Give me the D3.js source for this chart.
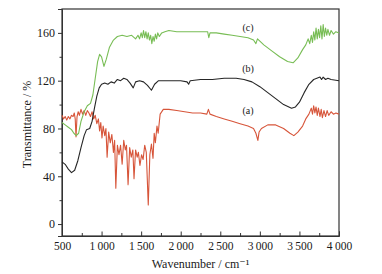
<!DOCTYPE html>
<html>
<head>
<meta charset="utf-8">
<script src="https://cdn.jsdelivr.net/npm/d3@7"></script>
<style>
  body { margin: 0; background: #fff; }
  svg text { font-family: "Liberation Serif", "DejaVu Serif", serif; fill: #1a1a1a; }
  .axis path, .axis line { stroke: #333; }
</style>
</head>
<body>
<svg id="chart" width="382" height="274"></svg>
<script>
// Curve (a): red spectrum [wavenumber, transmittance]
const seriesA = [
  [500, 91], [520, 88], [540, 90], [560, 87], [580, 90], [600, 88], [620, 91], [640, 90], [655, 93],
  [667, 88], [677, 73], [690, 90], [705, 94], [720, 91], [740, 96], [760, 92], [780, 95], [800, 91],
  [820, 95], [840, 93], [860, 90], [880, 94], [900, 88], [920, 91], [940, 84], [960, 88], [975, 78],
  [990, 85], [1005, 72], [1020, 82], [1040, 74], [1055, 80], [1070, 56], [1090, 77], [1110, 68],
  [1130, 75], [1150, 60], [1165, 70], [1180, 30], [1200, 66], [1220, 58], [1240, 66], [1260, 50],
  [1280, 70], [1300, 62], [1315, 66], [1335, 33], [1355, 64], [1375, 56], [1395, 62], [1410, 38],
  [1430, 62], [1450, 56], [1465, 60], [1485, 49], [1505, 58], [1525, 54], [1545, 66], [1565, 60],
  [1590, 16], [1610, 58], [1630, 67], [1650, 55], [1665, 76], [1680, 68], [1700, 82], [1715, 76],
  [1740, 92], [1780, 96], [1850, 96], [1950, 95], [2050, 94], [2150, 93], [2250, 93], [2330, 92],
  [2350, 96], [2370, 92], [2450, 90], [2550, 88], [2650, 86], [2750, 84], [2850, 82], [2920, 80],
  [2950, 76], [2975, 70], [2990, 77], [3020, 80], [3100, 83], [3200, 83], [3300, 80], [3380, 76],
  [3430, 74], [3480, 77], [3540, 82], [3580, 88], [3620, 92], [3650, 97], [3665, 92], [3680, 99],
  [3695, 93], [3710, 98], [3725, 91], [3740, 97], [3760, 90], [3775, 96], [3790, 89], [3810, 95],
  [3830, 90], [3850, 95], [3870, 91], [3900, 94], [3930, 92], [3960, 93], [4000, 92]
];

// Curve (b): black spectrum
const seriesB = [
  [500, 52], [540, 50], [580, 46], [620, 43], [660, 45], [700, 53], [740, 64], [780, 74], [810, 79],
  [850, 80], [880, 86], [910, 97], [940, 107], [970, 114], [1000, 117], [1040, 118], [1080, 117],
  [1120, 119], [1160, 118], [1200, 121], [1240, 120], [1280, 122], [1320, 121], [1360, 118],
  [1400, 114], [1430, 119], [1480, 120], [1530, 119], [1580, 116], [1630, 112], [1670, 117],
  [1720, 120], [1800, 120], [1900, 120], [2000, 120], [2080, 119], [2100, 117], [2120, 120],
  [2250, 121], [2400, 121], [2550, 122], [2700, 122], [2800, 121], [2900, 119], [3000, 115],
  [3100, 110], [3200, 105], [3300, 100], [3400, 97], [3450, 98], [3500, 102], [3560, 110],
  [3620, 117], [3680, 121], [3720, 122], [3760, 123], [3780, 121], [3800, 123], [3830, 121],
  [3860, 122], [3900, 121], [4000, 120]
];

// Curve (c): green spectrum
const seriesC = [
  [500, 85], [540, 83], [580, 81], [620, 79], [650, 76], [680, 74], [710, 76], [740, 86], [780, 94],
  [820, 99], [860, 101], [890, 108], [920, 122], [950, 136], [975, 142], [1000, 140], [1030, 132],
  [1060, 138], [1100, 148], [1150, 154], [1200, 157], [1260, 158], [1320, 157], [1380, 158],
  [1430, 155], [1460, 158], [1480, 155], [1500, 160], [1515, 156], [1530, 162], [1545, 156],
  [1560, 161], [1575, 155], [1590, 160], [1605, 154], [1620, 158], [1635, 151], [1650, 157],
  [1665, 153], [1680, 159], [1695, 155], [1710, 160], [1730, 157], [1760, 160], [1800, 161],
  [1850, 162], [1950, 161], [2050, 161], [2150, 161], [2250, 161], [2340, 161], [2355, 156],
  [2370, 160], [2450, 160], [2550, 159], [2650, 158], [2750, 157], [2850, 156], [2920, 154],
  [2950, 151], [2970, 155], [3050, 150], [3150, 145], [3250, 140], [3350, 136], [3420, 135],
  [3480, 139], [3540, 146], [3580, 150], [3610, 155], [3630, 151], [3650, 158], [3665, 152],
  [3680, 161], [3695, 154], [3710, 164], [3725, 155], [3740, 163], [3755, 156], [3770, 166],
  [3785, 155], [3800, 167], [3815, 157], [3830, 164], [3845, 158], [3860, 163], [3880, 158],
  [3900, 162], [3930, 159], [3960, 161], [4000, 160]
];

const xTicks = [500, 1000, 1500, 2000, 2500, 3000, 3500, 4000];
const yTicks = [0, 40, 80, 120, 160];
const curveLabels = [
  { text: '(a)', wn: 2850, val: 92 },
  { text: '(b)', wn: 2850, val: 127 },
  { text: '(c)', wn: 2850, val: 162 }
];

const svg = d3.select('#chart');
const margin = { top: 9, right: 43, bottom: 38, left: 62 };
const width = 382 - margin.left - margin.right;
const height = 274 - margin.top - margin.bottom;

const g = svg.append('g').attr('transform', `translate(${margin.left},${margin.top})`);

const x = d3.scaleLinear().domain([500, 4000]).range([0, width]);
const y = d3.scaleLinear().domain([-10, 180]).range([height, 0]);

// thousands with a thin space like "1 000"
const fmtX = d => d >= 1000 ? String(d).replace(/(\d)(\d{3})$/, '$1\u2009$2') : String(d);

// minor ticks
g.append('g')
  .attr('class', 'axis')
  .attr('transform', `translate(0,${height})`)
  .call(d3.axisBottom(x).tickValues(d3.range(750, 4000, 500)).tickSize(-3).tickFormat(''))
  .call(a => a.select('.domain').remove());

g.append('g')
  .attr('class', 'axis')
  .call(d3.axisLeft(y).tickValues([20, 60, 100, 140]).tickSize(2.5).tickFormat(''))
  .call(a => a.select('.domain').remove());

// main axes
g.append('g')
  .attr('class', 'axis x-axis')
  .attr('transform', `translate(0,${height})`)
  .call(d3.axisBottom(x).tickValues(xTicks).tickSize(-4.5).tickPadding(6).tickFormat(fmtX))
  .call(a => a.selectAll('text').attr('font-size', 11.5));

g.append('g')
  .attr('class', 'axis y-axis')
  .call(d3.axisLeft(y).tickValues(yTicks).tickSize(4).tickPadding(3))
  .call(a => a.selectAll('text').attr('font-size', 12));

// frame (top and right)
g.append('rect')
  .attr('width', width)
  .attr('height', height)
  .attr('fill', 'none')
  .attr('stroke', '#333')
  .attr('stroke-width', 1.2);

const line = d3.line()
  .x(d => x(d[0]))
  .y(d => y(d[1]));

[
  { data: seriesA, color: '#d7553a' },
  { data: seriesB, color: '#262626' },
  { data: seriesC, color: '#78bd55' }
].forEach(s => {
  g.append('path')
    .datum(s.data)
    .attr('fill', 'none')
    .attr('stroke', s.color)
    .attr('stroke-width', 1.1)
    .attr('stroke-linejoin', 'round')
    .attr('d', line);
});

g.selectAll('.curve-label')
  .data(curveLabels)
  .join('text')
  .attr('class', 'curve-label')
  .attr('x', d => x(d.wn))
  .attr('y', d => y(d.val))
  .attr('text-anchor', 'middle')
  .attr('font-size', 10)
  .text(d => d.text);

// axis titles
svg.append('text')
  .attr('x', margin.left + width / 2)
  .attr('y', 268)
  .attr('text-anchor', 'middle')
  .attr('font-size', 12)
  .text('Wavenumber / cm\u207B\u00B9');

svg.append('text')
  .attr('transform', 'rotate(-90)')
  .attr('x', -(margin.top + height / 2 + 2))
  .attr('y', 31)
  .attr('text-anchor', 'middle')
  .attr('font-size', 12)
  .text('Transmittance / %');
</script>
</body>
</html>
